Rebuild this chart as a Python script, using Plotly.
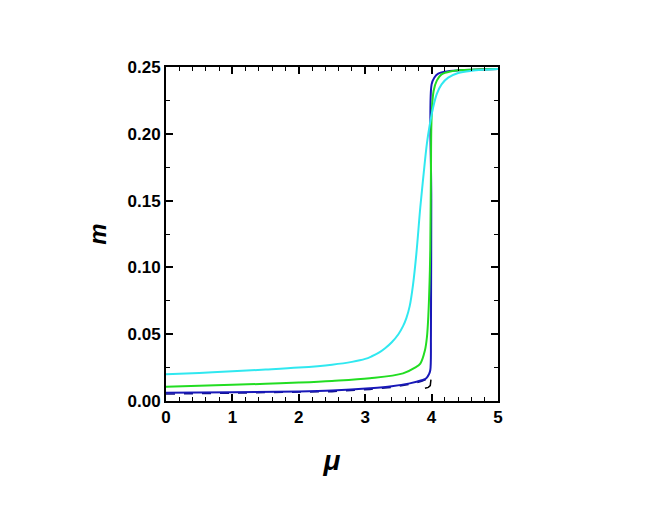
import plotly.graph_objects as go

# curve data (mu, m)
mu_cyan = [0, 0.5, 1, 1.5, 2, 2.5, 2.8, 3.0, 3.1, 3.2, 3.3, 3.4, 3.5, 3.57, 3.62, 3.67,
           3.72, 3.77, 3.83, 3.88, 3.93, 3.97, 4.02, 4.08, 4.15, 4.25, 4.4, 4.6, 5]
m_cyan = [0.020, 0.021, 0.0222, 0.0235, 0.025, 0.0272, 0.0293, 0.0315, 0.0335, 0.036,
          0.0395, 0.044, 0.05, 0.056, 0.062, 0.071, 0.087, 0.11, 0.145, 0.17, 0.193,
          0.206, 0.219, 0.23, 0.237, 0.242, 0.2455, 0.2472, 0.2485]

mu_green = [0, 0.5, 1, 1.5, 2, 2.5, 3.07, 3.57, 3.75, 3.83, 3.9, 3.93, 3.95, 3.97,
            3.98, 3.99, 4.0, 4.03, 4.08, 4.15, 4.3, 4.5, 5]
m_green = [0.0107, 0.0114, 0.0121, 0.0129, 0.0138, 0.015, 0.017, 0.0207, 0.025, 0.028,
           0.038, 0.048, 0.063, 0.09, 0.113, 0.17, 0.212, 0.232, 0.24, 0.2445,
           0.2468, 0.2478, 0.2485]

mu_blue = [0, 1, 2, 2.5, 3.07, 3.4, 3.67, 3.85, 3.92, 3.96, 3.98, 3.99, 3.995, 4.0,
           4.04, 4.1, 4.2, 4.4, 5]
m_blue = [0.0062, 0.0066, 0.0071, 0.0078, 0.0095, 0.011, 0.0132, 0.0155, 0.017, 0.02,
          0.023, 0.05, 0.15, 0.237, 0.242, 0.245, 0.2465, 0.2475, 0.2485]

mu_navy = [0, 1, 2, 2.5, 3.07, 3.4, 3.67, 3.85, 3.92]
m_navy = [0.0052, 0.0057, 0.0063, 0.007, 0.0087, 0.0102, 0.0124, 0.0147, 0.0162]

mu_black = [3.9, 3.95, 3.98, 3.99]
m_black = [0.0095, 0.0102, 0.0115, 0.016]

x_ticks = [0, 1, 2, 3, 4, 5]
y_ticks = [0.00, 0.05, 0.10, 0.15, 0.20, 0.25]

fig = go.Figure()
fig.add_trace(go.Scatter(x=mu_black, y=m_black, mode="lines",
                         line=dict(color="black", width=1.5)))
fig.add_trace(go.Scatter(x=mu_navy, y=m_navy, mode="lines",
                         line=dict(color="#101080", width=1.5, dash="dash")))
fig.add_trace(go.Scatter(x=mu_blue, y=m_blue, mode="lines", line_shape="spline",
                         line=dict(color="#1818b8", width=2)))
fig.add_trace(go.Scatter(x=mu_green, y=m_green, mode="lines", line_shape="spline",
                         line=dict(color="#22dd22", width=2)))
fig.add_trace(go.Scatter(x=mu_cyan, y=m_cyan, mode="lines", line_shape="spline",
                         line=dict(color="#30e8f0", width=2)))

axis_common = dict(
    showgrid=False, zeroline=False, showline=True, linecolor="black", linewidth=2,
    mirror="allticks", ticks="inside", ticklen=7, tickwidth=1.5, tickcolor="black",
    tickfont=dict(family="Arial", size=17, color="black", weight="bold"),
    automargin=False,
)

fig.update_xaxes(
    range=[0, 5], tickvals=x_ticks, ticktext=[str(v) for v in x_ticks],
    minor=dict(dtick=0.2, ticks="inside", ticklen=4, tickcolor="black", tickwidth=1),
    title=dict(text="<i>μ</i>", font=dict(family="Arial", size=28, color="black",
                                          weight="bold"), standoff=24),
    **axis_common,
)
fig.update_yaxes(
    range=[0, 0.25], tickvals=y_ticks, ticktext=[f"{v:.2f}" for v in y_ticks],
    minor=dict(dtick=0.025, ticks="inside", ticklen=4, tickcolor="black", tickwidth=1),
    title=dict(text="<i>m</i>", font=dict(family="Arial", size=24, color="black",
                                          weight="bold"), standoff=14),
    **axis_common,
)

# the page body adds an 8px offset, so the margins are shifted to compensate
fig.update_layout(
    width=664, height=532,
    margin=dict(l=158, r=174, t=59, b=139),
    plot_bgcolor="white", paper_bgcolor="white",
    showlegend=False,
)

fig.write_html("out.html")
